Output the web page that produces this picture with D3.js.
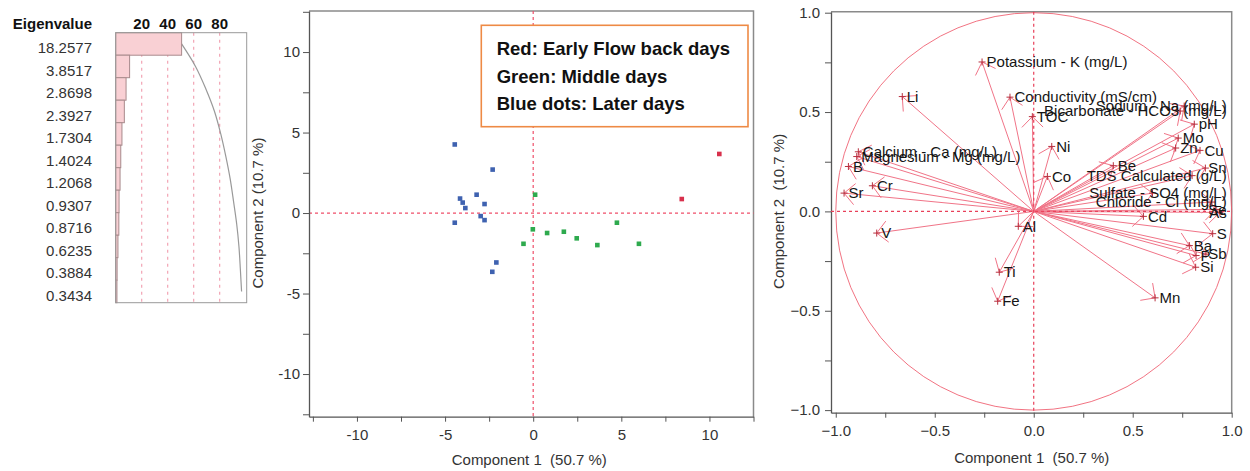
<!DOCTYPE html>
<html>
<head>
<meta charset="utf-8">
<script src="https://cdn.jsdelivr.net/npm/d3@7"></script>
<style>
  body { margin: 0; background: #fff; }
  svg { display: block; font-family: "Liberation Sans", Arial, sans-serif; }
</style>
</head>
<body>
<svg id="chart" width="1250" height="471"></svg>
<script>
// ---- Eigenvalue table ----
const eigenvalues = [18.2577, 3.8517, 2.8698, 2.3927, 1.7304, 1.4024, 1.2068, 0.9307, 0.8716, 0.6235, 0.3884, 0.3434];
const totalVariance = 36; // correlation PCA: sum of all eigenvalues = number of variables
const percentTicks = [20, 40, 60, 80];

// ---- Score plot (Component 1 vs Component 2) ----
const earlyScores = [[10.56, 3.67], [8.43, 0.87]];
const middleScores = [[0.11, 1.14], [4.75, -0.60], [-0.02, -1.01], [0.79, -1.24], [1.74, -1.16],
                      [2.47, -1.57], [-0.55, -1.91], [3.64, -1.99], [6.00, -1.91]];
const laterScores = [[-4.45, 4.26], [-2.30, 2.70], [-3.21, 1.14], [-4.15, 0.90], [-4.00, 0.65],
                     [-3.85, 0.31], [-2.76, 0.56], [-2.98, -0.19], [-2.76, -0.44], [-4.45, -0.60],
                     [-2.09, -3.07], [-2.32, -3.65]];
const scoreTicks = [-10, -5, 0, 5, 10];
const scoreMinorTicks = [-12.5, -7.5, -2.5, 2.5, 7.5, 12.5];
const legendLines = ["Red: Early Flow back days", "Green: Middle days", "Blue dots: Later days"];

// ---- Loading plot ----
const variables = ["Potassium - K (mg/L)", "Li", "Conductivity (mS/cm)", "Bicarbonate - HCO3 (mg/L)", "TOC",
  "Sodium - Na (mg/L)", "pH", "Mo", "Zn", "Cu", "Sn", "Be", "Co", "Ni", "TDS Calculated (g/L)",
  "Sulfate - SO4 (mg/L)", "Chloride - Cl (mg/L)", "Se", "As", "Cd", "S", "Ba", "P", "Sb", "Si", "Mn",
  "Fe", "Ti", "Al", "V", "Sr", "Cr", "B", "Calcium - Ca (mg/L)", "Magnesium - Mg (mg/L)"];
const loading1 = [-0.261, -0.664, -0.120, 0.740, -0.007, 0.760, 0.811, 0.730, 0.717, 0.840, 0.867, 0.402,
  0.069, 0.091, 0.800, 0.600, 0.900, 0.920, 0.940, 0.554, 0.904, 0.786, 0.820, 0.870, 0.818, 0.613,
  -0.182, -0.174, -0.078, -0.793, -0.958, -0.815, -0.936, -0.886, -0.894];
const loading2 = [0.752, 0.578, 0.575, 0.505, 0.477, 0.530, 0.439, 0.369, 0.319, 0.307, 0.218, 0.230,
  0.176, 0.327, 0.180, 0.092, 0.047, 0.010, -0.005, -0.025, -0.112, -0.172, -0.222, -0.215, -0.281, -0.435,
  -0.452, -0.306, -0.075, -0.109, 0.092, 0.129, 0.226, 0.300, 0.276];
const loadingTicks = [-1, -0.5, 0, 0.5, 1];
const loadingMinorTicks = [-0.75, -0.25, 0.25, 0.75];

const svg = d3.select("#chart");
svg.append("rect").attr("width", 1250).attr("height", 471).attr("fill", "#fff");

const axisColor = "#555";
const tickTextColor = "#333";

function styleAxis(g) {
  g.selectAll("path.domain").attr("stroke", axisColor).attr("stroke-width", 1.3);
  g.selectAll(".tick line").attr("stroke", axisColor);
  g.selectAll(".tick text").attr("fill", tickTextColor).attr("font-size", 15)
    .attr("font-family", "'Liberation Sans', Arial, sans-serif");
}

// ================= Eigenvalue panel =================
{
  const box = { l: 115.7, r: 246.7, t: 32.7, b: 302.7 };
  const x = d3.scaleLinear().domain([0, 100.8]).range([box.l, box.r]);
  const y = d3.scaleBand().domain(d3.range(eigenvalues.length)).range([box.t, box.b]);
  const g = svg.append("g");

  g.append("text").attr("x", 92).attr("y", 24).attr("dy", "0.35em").attr("text-anchor", "end")
    .attr("font-size", 15).attr("font-weight", "bold").attr("fill", "#111").text("Eigenvalue");

  g.selectAll("text.ev").data(eigenvalues).join("text").attr("class", "ev")
    .attr("x", 92).attr("y", (d, i) => y(i) + y.bandwidth() / 2 + 4).attr("dy", "0.35em")
    .attr("text-anchor", "end").attr("font-size", 15).attr("fill", tickTextColor)
    .text(d => d3.format(".4f")(d));

  g.selectAll("text.pt").data(percentTicks).join("text").attr("class", "pt")
    .attr("x", d => x(d)).attr("y", 24).attr("dy", "0.35em").attr("text-anchor", "middle")
    .attr("font-size", 15).attr("font-weight", "bold").attr("fill", "#111").text(d => d);

  g.selectAll("line.grid").data(percentTicks).join("line").attr("class", "grid")
    .attr("x1", d => x(d)).attr("x2", d => x(d)).attr("y1", box.t).attr("y2", box.b)
    .attr("stroke", "#f2a4b4").attr("stroke-dasharray", "3,4").attr("stroke-width", 1.2);

  // cumulative percent curve
  let acc = 0;
  const cum = eigenvalues.map((v, i) => { acc += v; return [acc / totalVariance * 100, i]; });
  g.append("path").datum(cum)
    .attr("d", d3.line().x(d => x(d[0])).y(d => y(d[1]) + y.bandwidth() / 2).curve(d3.curveMonotoneY))
    .attr("fill", "none").attr("stroke", "#999").attr("stroke-width", 1.2);

  g.selectAll("rect.bar").data(eigenvalues).join("rect").attr("class", "bar")
    .attr("x", box.l).attr("y", (d, i) => y(i))
    .attr("width", d => x(d / totalVariance * 100) - box.l).attr("height", y.bandwidth())
    .attr("fill", "#f9d0d4").attr("stroke", "#a88a8c").attr("stroke-width", 1);

  g.append("rect").attr("x", box.l).attr("y", box.t).attr("width", box.r - box.l).attr("height", box.b - box.t)
    .attr("fill", "none").attr("stroke", "#999");
}

// ================= Score plot =================
{
  const fr = { l: 309, r: 753.5, t: 11, b: 416.7 };
  const x = d3.scaleLinear().domain([-12.72, 12.5]).range([fr.l, fr.r]);
  const y = d3.scaleLinear().domain([-12.65, 12.55]).range([fr.b, fr.t]);
  const g = svg.append("g");

  g.append("path").attr("d", `M${fr.l},${fr.t}H${fr.r}V${fr.b}`).attr("fill", "none")
    .attr("stroke", "#8a8a8a").attr("stroke-width", 1.5);

  // zero reference lines
  g.append("line").attr("x1", fr.l).attr("x2", fr.r).attr("y1", y(0)).attr("y2", y(0))
    .attr("stroke", "#ef4f6a").attr("stroke-dasharray", "3,3").attr("stroke-width", 1.2);
  g.append("line").attr("x1", x(0)).attr("x2", x(0)).attr("y1", fr.t).attr("y2", fr.b)
    .attr("stroke", "#ef4f6a").attr("stroke-dasharray", "3,3").attr("stroke-width", 1.2);

  const ax = g.append("g").attr("transform", `translate(0,${fr.b})`)
    .call(d3.axisBottom(x).tickValues(scoreTicks.concat(scoreMinorTicks))
      .tickFormat(d => scoreTicks.includes(d) ? d : "").tickSize(5).tickSizeOuter(0).tickPadding(8));
  styleAxis(ax);
  const ay = g.append("g").attr("transform", `translate(${fr.l},0)`)
    .call(d3.axisLeft(y).tickValues(scoreTicks.concat(scoreMinorTicks))
      .tickFormat(d => scoreTicks.includes(d) ? d : "").tickSize(6).tickSizeOuter(0).tickPadding(3));
  styleAxis(ay);

  const groups = [
    { pts: laterScores, color: "#3f62b0" },
    { pts: middleScores, color: "#2eaa4e" },
    { pts: earlyScores, color: "#d8304c" }
  ];
  const s = 4.6;
  groups.forEach(grp => {
    g.selectAll(null).data(grp.pts).join("rect")
      .attr("x", d => x(d[0]) - s / 2).attr("y", d => y(d[1]) - s / 2)
      .attr("width", s).attr("height", s).attr("fill", grp.color);
  });

  // legend box
  g.append("rect").attr("x", 481.3).attr("y", 25.3).attr("width", 266.7).attr("height", 101.4)
    .attr("fill", "#fff").attr("stroke", "#ee8a45").attr("stroke-width", 1.6);
  g.selectAll("text.leg").data(legendLines).join("text").attr("class", "leg")
    .attr("x", 496.7).attr("y", (d, i) => 49 + i * 27.2).attr("dy", "0.35em")
    .attr("font-size", 18.5).attr("font-weight", "bold").attr("fill", "#111").text(d => d);

  g.append("text").attr("x", (fr.l + fr.r) / 2 - 2).attr("y", 460).attr("dy", "0.35em")
    .attr("text-anchor", "middle").attr("font-size", 15).attr("fill", tickTextColor)
    .attr("xml:space", "preserve").text("Component 1  (50.7 %)");
  g.append("text").attr("transform", `translate(258,${y(0)}) rotate(-90)`).attr("dy", "0.35em")
    .attr("text-anchor", "middle").attr("font-size", 15).attr("fill", tickTextColor)
    .text("Component 2 (10.7 %)");
}

// ================= Loading plot =================
{
  const fr = { l: 831, r: 1231.7, t: 11.7, b: 412.7 };
  const x = d3.scaleLinear().domain([-1.024, 1.0]).range([fr.l, fr.r]);
  const y = d3.scaleLinear().domain([-1.013, 1.005]).range([fr.b, fr.t]);
  const g = svg.append("g");

  g.append("path").attr("d", `M${fr.l},${fr.t}H${fr.r}V${fr.b}`).attr("fill", "none")
    .attr("stroke", "#8a8a8a").attr("stroke-width", 1.5);

  const ax = g.append("g").attr("transform", `translate(0,${fr.b})`)
    .call(d3.axisBottom(x).tickValues(loadingTicks.concat(loadingMinorTicks))
      .tickFormat(d => loadingTicks.includes(d) ? d3.format(".1f")(d) : "").tickSize(5).tickSizeOuter(0).tickPadding(8));
  styleAxis(ax);
  const ay = g.append("g").attr("transform", `translate(${fr.l},0)`)
    .call(d3.axisLeft(y).tickValues(loadingTicks.concat(loadingMinorTicks))
      .tickFormat(d => loadingTicks.includes(d) ? d3.format(".1f")(d) : "").tickSize(6).tickSizeOuter(0).tickPadding(5));
  styleAxis(ay);

  const cx = x(0), cy = y(0);
  // unit circle
  g.append("ellipse").attr("cx", cx).attr("cy", cy).attr("rx", x(1) - x(0)).attr("ry", y(0) - y(1))
    .attr("fill", "none").attr("stroke", "#ee5a6c").attr("stroke-width", 1).attr("opacity", 0.85);

  g.append("line").attr("x1", fr.l).attr("x2", fr.r).attr("y1", cy).attr("y2", cy)
    .attr("stroke", "#e8405a").attr("stroke-dasharray", "3,3").attr("stroke-width", 1.2);
  g.append("line").attr("x1", cx).attr("x2", cx).attr("y1", fr.t).attr("y2", fr.b)
    .attr("stroke", "#e8405a").attr("stroke-dasharray", "3,3").attr("stroke-width", 1.2);

  const pts = variables.map((name, i) => ({ name, px: x(loading1[i]), py: y(loading2[i]) }));

  const vec = g.append("g").attr("stroke", "#ec4660").attr("stroke-width", 1).attr("opacity", 0.75)
    .attr("fill", "none");
  const head = 15, ang = Math.PI / 4;
  pts.forEach(p => {
    vec.append("line").attr("x1", cx).attr("y1", cy).attr("x2", p.px).attr("y2", p.py);
    const dx = cx - p.px, dy = cy - p.py, len = Math.hypot(dx, dy) || 1;
    const ux = dx / len, uy = dy / len;
    [ang, -ang].forEach(a => {
      const rx = ux * Math.cos(a) - uy * Math.sin(a);
      const ry = ux * Math.sin(a) + uy * Math.cos(a);
      vec.append("line").attr("x1", p.px).attr("y1", p.py)
        .attr("x2", p.px + rx * head).attr("y2", p.py + ry * head);
    });
  });

  g.selectAll("path.mk").data(pts).join("path").attr("class", "mk")
    .attr("d", p => `M${p.px - 3.5},${p.py}h7M${p.px},${p.py - 3.5}v7`)
    .attr("stroke", "#b8303f").attr("stroke-width", 1);

  const labels = g.selectAll("text.lab").data(pts).join("text").attr("class", "lab")
    .attr("x", p => p.px + 4.5).attr("y", p => p.py).attr("dy", "0.35em")
    .attr("font-size", 15).attr("fill", "#151515").text(p => p.name);
  // keep labels inside the frame
  labels.each(function (p) {
    const w = this.getComputedTextLength();
    const right = fr.r - 5;
    if (p.px + 4.5 + w > right) d3.select(this).attr("x", right - w);
  });

  g.append("text").attr("x", cx - 2).attr("y", 458).attr("dy", "0.35em")
    .attr("text-anchor", "middle").attr("font-size", 15).attr("fill", tickTextColor)
    .attr("xml:space", "preserve").text("Component 1  (50.7 %)");
  g.append("text").attr("transform", `translate(779,${cy}) rotate(-90)`).attr("dy", "0.35em")
    .attr("text-anchor", "middle").attr("font-size", 15).attr("fill", tickTextColor)
    .text("Component 2  (10.7 %)").attr("xml:space", "preserve");
}
</script>
</body>
</html>
